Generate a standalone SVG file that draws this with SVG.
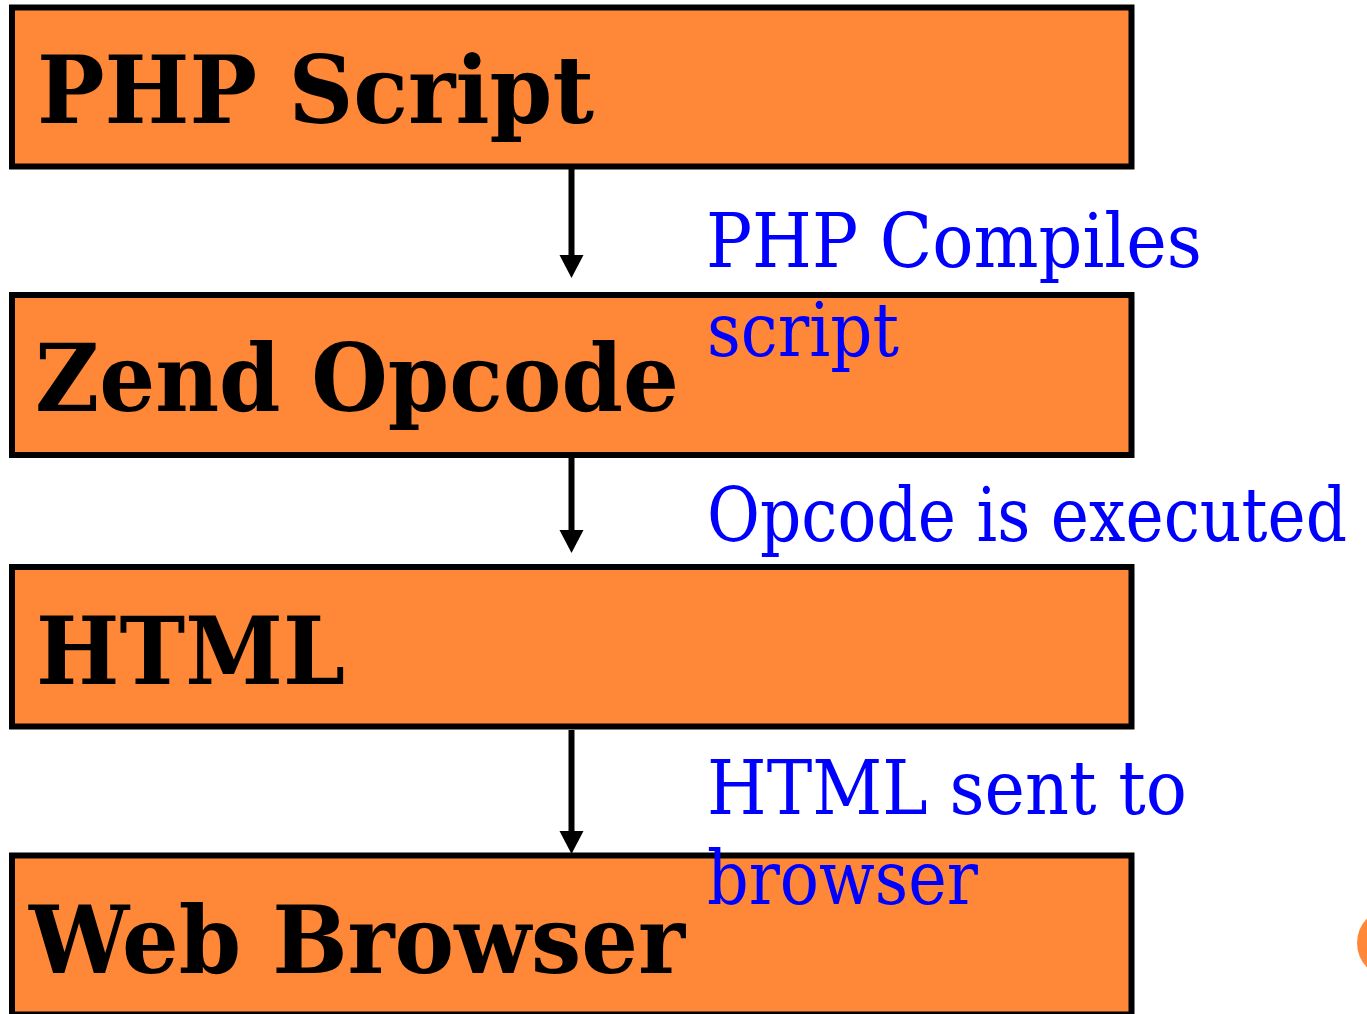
<svg xmlns="http://www.w3.org/2000/svg" width="1367" height="1014" viewBox="0 0 1367 1014">
<style>
.box{fill:#FF8838;stroke:#000;stroke-width:6}
.title{font-family:"DejaVu Serif","Liberation Serif",serif;font-weight:bold;font-size:93px;fill:#000}
.lbl{font-family:"DejaVu Serif","Liberation Serif",serif;font-size:74px;fill:#0000FF}
.conn{stroke:#000;stroke-width:6;fill:none}
.head{fill:#000}
</style>
<rect width="1367" height="1014" fill="#fff"/>
<circle cx="1392" cy="943" r="35" fill="#FF8838"/>
<g id="connectors">
  <line class="conn" x1="571.5" y1="169" x2="571.5" y2="258"/>
  <polygon class="head" points="559.5,255 583.5,255 571.5,278"/>
  <line class="conn" x1="571.5" y1="458" x2="571.5" y2="533"/>
  <polygon class="head" points="559.5,530 583.5,530 571.5,553"/>
  <line class="conn" x1="571.5" y1="730" x2="571.5" y2="834"/>
  <polygon class="head" points="559.5,831 583.5,831 571.5,854"/>
</g>
<g id="node-php-script">
  <rect class="box" x="12" y="7.5" width="1119.5" height="159"/>
  <text class="title" x="37" y="123" textLength="557" lengthAdjust="spacingAndGlyphs">PHP Script</text>
</g>
<g id="node-zend-opcode">
  <rect class="box" x="12" y="295" width="1119.5" height="160"/>
  <text class="title" x="35" y="411" textLength="644" lengthAdjust="spacingAndGlyphs">Zend Opcode</text>
</g>
<g id="node-html">
  <rect class="box" x="12" y="567" width="1119.5" height="159.5"/>
  <text class="title" x="36" y="684" textLength="309" lengthAdjust="spacingAndGlyphs">HTML</text>
</g>
<g id="node-web-browser">
  <rect class="box" x="12" y="855.5" width="1119.5" height="159"/>
  <text class="title" x="29" y="973" textLength="656" lengthAdjust="spacingAndGlyphs">Web Browser</text>
</g>
<g id="labels">
  <text class="lbl" x="706" y="267" textLength="496" lengthAdjust="spacingAndGlyphs">PHP Compiles</text>
  <text class="lbl" x="707" y="356" textLength="192" lengthAdjust="spacingAndGlyphs">script</text>
  <text class="lbl" x="707" y="541" textLength="640" lengthAdjust="spacingAndGlyphs">Opcode is executed</text>
  <text class="lbl" x="707" y="814" textLength="480" lengthAdjust="spacingAndGlyphs">HTML sent to</text>
  <text class="lbl" x="707" y="904" textLength="271" lengthAdjust="spacingAndGlyphs">browser</text>
</g>
</svg>
